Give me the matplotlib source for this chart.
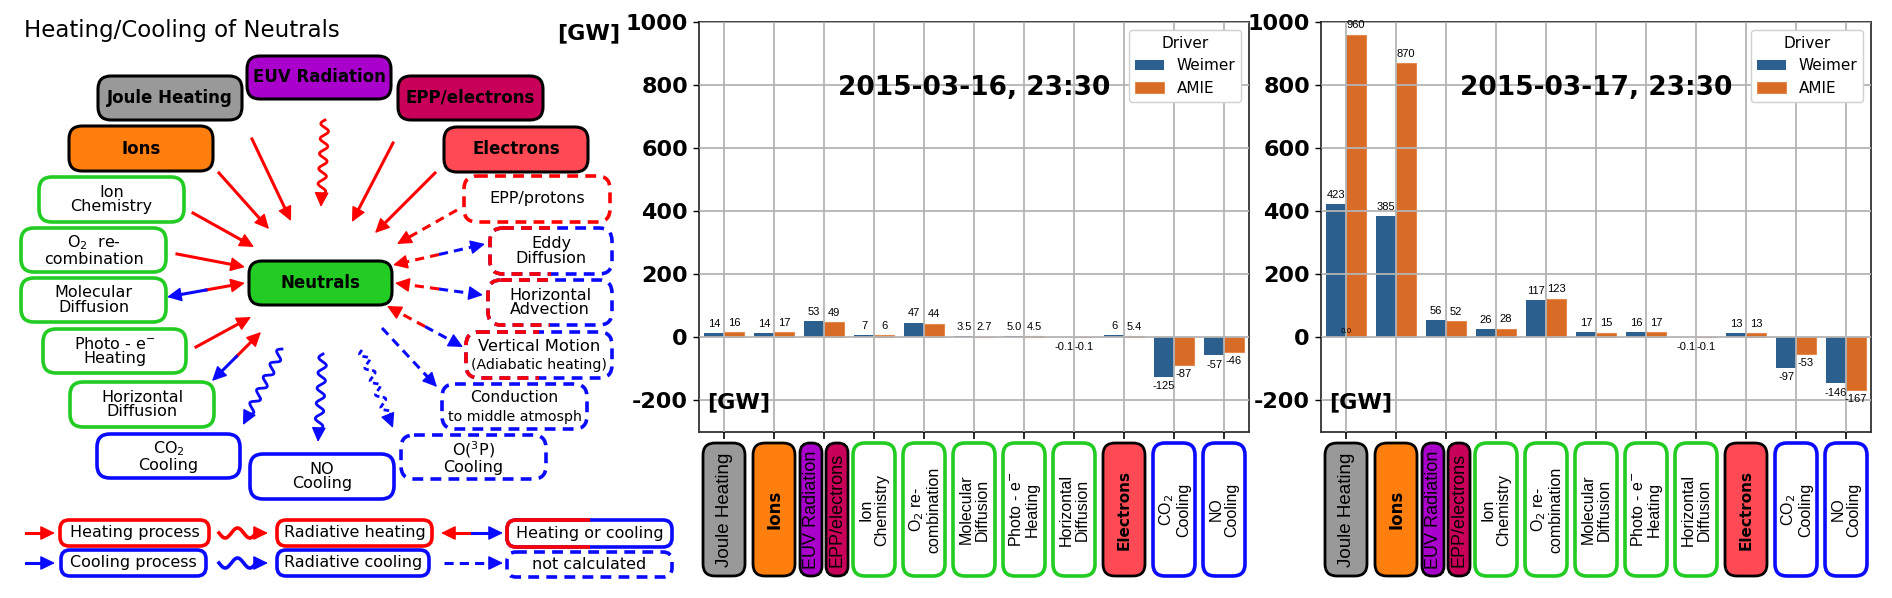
import numpy as np
import matplotlib
matplotlib.use("Agg")
import matplotlib.pyplot as plt
from matplotlib.patches import FancyBboxPatch, FancyArrowPatch, Rectangle

# ---- data -------------------------------------------------------------
categories = ["Joule Heating", "Ions", "EUV Radiation / EPP electrons", "Ion Chemistry",
              "O2 re-combination", "Molecular Diffusion", "Photo-e Heating",
              "Horizontal Diffusion", "Electrons", "CO2 Cooling", "NO Cooling"]
drivers = ["Weimer", "AMIE"]
dates = ["2015-03-16, 23:30", "2015-03-17, 23:30"]

weimer_16 = [14, 14, 53, 7, 47, 3.5, 5.0, -0.1, 6, -125, -57]
amie_16 = [16, 17, 49, 6, 44, 2.7, 4.5, -0.1, 5.4, -87, -46]
weimer_16_txt = ["14", "14", "53", "7", "47", "3.5", "5.0", "-0.1", "6", "-125", "-57"]
amie_16_txt = ["16", "17", "49", "6", "44", "2.7", "4.5", "-0.1", "5.4", "-87", "-46"]

weimer_17 = [423, 385, 56, 26, 117, 17, 16, -0.1, 13, -97, -146]
amie_17 = [960, 870, 52, 28, 123, 15, 17, -0.1, 13, -53, -167]
weimer_17_txt = ["423", "385", "56", "26", "117", "17", "16", "-0.1", "13", "-97", "-146"]
amie_17_txt = ["960", "870", "52", "28", "123", "15", "17", "-0.1", "13", "-53", "-167"]

ytick_vals = [-200, 0, 200, 400, 600, 800, 1000]

# colours
C_W = "#2b5f8e"
C_A = "#d86b25"
RED = "#ff0000"
BLUE = "#0a0aff"
GREEN = "#22cc22"

plt.rcParams["font.family"] = ["DejaVu Sans"]

W, H = 1892, 598
fig = plt.figure(figsize=(W / 100, H / 100), dpi=100)


def px_axes(x0, y0, x1, y1):
    """axes from pixel box (top-left origin)"""
    return fig.add_axes([x0 / W, (H - y1) / H, (x1 - x0) / W, (y1 - y0) / H])


def draw_chart(ax, w, a, wt, at, date):
    x = np.arange(len(categories))
    b1 = ax.bar(x - 0.2, w, 0.4, color=C_W, label=drivers[0])
    b2 = ax.bar(x + 0.2, a, 0.4, color=C_A, edgecolor="#e58a4f", lw=0.8, label=drivers[1])
    ax.bar_label(b1, labels=wt, padding=3, fontsize=8, family="Liberation Sans")
    ax.bar_label(b2, labels=at, padding=3, fontsize=8, family="Liberation Sans")
    ax.set_xlim(-0.5, 10.5)
    ax.set_ylim(-300, 1000)
    ax.set_xticks(x)
    ax.set_xticklabels([])
    ax.set_yticks(ytick_vals)
    ax.set_yticklabels([str(v) for v in ytick_vals], fontsize=16, fontweight="bold")
    ax.tick_params(axis="y", length=4, width=1, pad=4)
    ax.tick_params(axis="x", length=5, width=1.2)
    ax.grid(True, color="#b4b4b4", lw=1.3)
    ax.set_axisbelow(False)
    for s in ax.spines.values():
        s.set_color("#333333")
        s.set_linewidth(1.3)
    leg = ax.legend(title="Driver", loc="upper right", fontsize=11, title_fontsize=11,
                    handlelength=1.9, handleheight=0.7, framealpha=1)
    leg.get_frame().set_edgecolor("#d0d0d0")
    ax.text(0.5, 0.84, date, transform=ax.transAxes, ha="center", va="center",
            fontsize=19, fontweight="bold")
    ax.text(0.015, 0.073, "[GW]", transform=ax.transAxes, ha="left", va="center",
            fontsize=16, fontweight="bold")


ax1 = px_axes(699, 22, 1249, 432)
ax2 = px_axes(1321, 22, 1871, 432)
draw_chart(ax1, weimer_16, amie_16, weimer_16_txt, amie_16_txt, dates[0])
draw_chart(ax2, weimer_17, amie_17, weimer_17_txt, amie_17_txt, dates[1])
ax2.text(0, 12, "0.0", fontsize=5, ha="center", va="bottom")

# ---- overlay for the diagram and label boxes (pixel coords) ------------
ov = fig.add_axes([0, 0, 1, 1])
ov.set_xlim(0, W)
ov.set_ylim(H, 0)
ov.axis("off")


def rbox(x0, y0, x1, y1, ec, fc="white", lw=2.2, ls="-", r=12, split=False):
    if split:
        p = FancyBboxPatch((x0, y0), x1 - x0, y1 - y0, boxstyle=f"round,pad=0,rounding_size={r}",
                           fc=fc, ec=BLUE, lw=lw, ls=ls, zorder=3)
        ov.add_patch(p)
        q = FancyBboxPatch((x0, y0), x1 - x0, y1 - y0, boxstyle=f"round,pad=0,rounding_size={r}",
                           fc="none", ec=RED, lw=lw, ls=ls, zorder=3.1)
        ov.add_patch(q)
        clip = Rectangle((x0 - 6, y0 - 6), (x1 - x0) / 2 + 6, (y1 - y0) + 12, transform=ov.transData)
        q.set_clip_path(clip)
    else:
        p = FancyBboxPatch((x0, y0), x1 - x0, y1 - y0, boxstyle=f"round,pad=0,rounding_size={r}",
                           fc=fc, ec=ec, lw=lw, ls=ls, zorder=3)
        ov.add_patch(p)


def btext(x0, y0, x1, y1, s, size=11.5, weight="normal", dy=0, **kw):
    ov.text((x0 + x1) / 2, (y0 + y1) / 2 + dy, s, ha="center", va="center", fontsize=size,
            fontweight=weight, linespacing=0.95, zorder=4, **kw)


def head(a, b, color):
    ov.add_patch(FancyArrowPatch(a, b, arrowstyle="-|>,head_length=0.45,head_width=0.22",
                                 mutation_scale=20, color=color, lw=1, shrinkA=0, shrinkB=0,
                                 zorder=2))


def arrow(p0, p1, color, ls="-", lw=2.2):
    p0, p1 = np.array(p0, float), np.array(p1, float)
    u = (p1 - p0) / np.hypot(*(p1 - p0))
    e = p1 - u * 10
    ov.plot([p0[0], e[0]], [p0[1], e[1]], color=color, lw=lw, ls=ls, zorder=2)
    head(p1 - u * 13, p1, color)


def double(pn, po, ls="-"):
    pn, po = np.array(pn, float), np.array(po, float)
    m = (pn + po) / 2
    arrow(m, pn, RED, ls=ls)
    arrow(m, po, BLUE, ls=ls)


def wavy(p0, p1, color, ls="-", amp=4.0, wl=15.0, lw=2.0):
    p0, p1 = np.array(p0, float), np.array(p1, float)
    d = p1 - p0
    L = np.hypot(*d)
    u = d / L
    n = np.array([-u[1], u[0]])
    Lw = L - 12
    k = max(1, round(2 * Lw / wl))
    wl = 2 * Lw / k
    s = np.linspace(0, Lw, 300)
    pts = p0 + np.outer(s, u) + np.outer(amp * np.sin(2 * np.pi * s / wl), n)
    ov.plot(pts[:, 0], pts[:, 1], color=color, lw=lw, ls=ls, zorder=2)
    head(p1 - u * 13, p1, color)


# title
ov.text(24, 31, "Heating/Cooling of Neutrals", fontsize=16.5, ha="left", va="center")

# filled source boxes
filled = [
    (98, 76, 242, 120, "#999999", "Joule Heating"),
    (247, 56, 391, 99, "#aa00cc", "EUV Radiation"),
    (398, 76, 543, 120, "#c8005a", "EPP/electrons"),
    (69, 126, 213, 171, "#ff7f0e", "Ions"),
    (444, 127, 588, 172, "#ff4a55", "Electrons"),
    (249, 261, 392, 305, "#22cc22", "Neutrals"),
]
for x0, y0, x1, y1, fc, s in filled:
    rbox(x0, y0, x1, y1, "black", fc=fc, lw=2.2, r=13)
    btext(x0, y0, x1, y1, s, size=12, weight="bold")

green = [
    (39, 177, 184, 222, "Ion\nChemistry"),
    (21, 228, 166, 272, "O$_2$  re-\ncombination"),
    (21, 278, 166, 322, "Molecular\nDiffusion"),
    (43, 329, 186, 373, "Photo - e$^{-}$\nHeating"),
    (70, 382, 214, 427, "Horizontal\nDiffusion"),
]
for x0, y0, x1, y1, s in green:
    rbox(x0, y0, x1, y1, GREEN, lw=2.6, r=13)
    btext(x0, y0, x1, y1, s, size=11.5)

rbox(97, 434, 240, 478, BLUE, lw=2.6, r=13)
btext(97, 434, 240, 478, "CO$_2$\nCooling", size=11.5)
rbox(250, 454, 394, 499, BLUE, lw=2.6, r=13)
btext(250, 454, 394, 499, "NO\nCooling", size=11.5)
rbox(401, 435, 546, 479, BLUE, lw=2.6, ls=(0, (3, 2)), r=13)
btext(401, 435, 546, 479, "O($^3$P)\nCooling", size=11.5)
rbox(442, 384, 587, 429, BLUE, lw=2.6, ls=(0, (3, 2)), r=13)
btext(442, 384, 587, 406, "Conduction", size=11.2, dy=3)
btext(442, 406, 587, 429, "to middle atmosph", size=10.2, dy=-1)
rbox(464, 176, 610, 222, RED, lw=2.6, ls=(0, (3, 2)), r=13)
btext(464, 176, 610, 222, "EPP/protons", size=11.5)
rbox(490, 228, 612, 274, RED, lw=2.6, ls=(0, (3, 2)), r=13, split=True)
btext(490, 228, 612, 274, "Eddy\nDiffusion", size=11.5)
rbox(488, 280, 612, 325, RED, lw=2.6, ls=(0, (3, 2)), r=13, split=True)
btext(488, 280, 612, 325, "Horizontal\nAdvection", size=11.5)
rbox(466, 332, 612, 378, RED, lw=2.6, ls=(0, (3, 2)), r=13, split=True)
btext(466, 332, 612, 355, "Vertical Motion", size=11.8, dy=3)
btext(466, 355, 612, 378, "(Adiabatic heating)", size=10.2, dy=-1)

# arrows into / out of the neutrals box
heat = [((219, 173), (269, 229)), ((252, 139), (291, 221)), ((393, 143), (352, 222)),
        ((435, 173), (375, 233)), ((193, 213), (254, 247)), ((177, 254), (245, 267)),
        ((196, 347), (251, 317))]
for p0, p1 in heat:
    arrow(p0, p1, RED)
double((245, 283), (167, 297))
double((261, 332), (212, 381))
arrow((457, 210), (397, 244), RED, ls=(0, (3, 2)))
double((393, 265), (485, 244), ls=(0, (3, 2)))
double((395, 283), (483, 295), ls=(0, (3, 2)))
double((387, 306), (463, 347), ls=(0, (3, 2)))
arrow((382, 328), (437, 387), BLUE, ls=(0, (3, 2)))
wavy((325, 120), (321, 207), RED)
wavy((282, 349), (243, 425), BLUE)
wavy((323, 354), (318, 442), BLUE)
wavy((362, 350), (393, 428), BLUE, ls=(0, (2, 1.2)))

# legend of the diagram
arrow((26, 533), (55, 533), RED)
arrow((26, 563), (55, 563), BLUE)
wavy((219, 533), (268, 533), RED, amp=5, wl=26, lw=2.6)
wavy((219, 563), (268, 563), BLUE, amp=5, wl=26, lw=2.6)
arrow((472, 533), (441, 533), RED)
arrow((472, 533), (503, 533), BLUE)
arrow((444, 563), (503, 563), BLUE, ls=(0, (3, 2)))
leg_boxes = [
    (60, 520, 209, 546, RED, "Heating process", "-", False),
    (277, 520, 432, 546, RED, "Radiative heating", "-", False),
    (507, 520, 672, 547, RED, "Heating or cooling", "-", True),
    (61, 550, 206, 576, BLUE, "Cooling process", "-", False),
    (277, 550, 429, 576, BLUE, "Radiative cooling", "-", False),
    (507, 552, 672, 577, BLUE, "not calculated", (0, (3, 2)), False),
]
for x0, y0, x1, y1, ec, s, ls, sp in leg_boxes:
    rbox(x0, y0, x1, y1, ec, lw=2.6, ls=ls, r=9, split=sp)
    btext(x0, y0, x1, y1, s, size=11.5)

# ---- x tick label boxes under each chart ------------------------------
xlab = [
    ("Joule Heating", "#999999", "black", "Liberation Sans", "normal", 13.5),
    ("Ions", "#ff7f0e", "black", "DejaVu Sans", "bold", 12),
    (None, None, None, None, None, None),
    ("Ion\nChemistry", "white", GREEN, "Liberation Sans", "normal", 11.5),
    ("O$_2$ re-\ncombination", "white", GREEN, "Liberation Sans", "normal", 11.5),
    ("Molecular\nDiffusion", "white", GREEN, "Liberation Sans", "normal", 11.5),
    ("Photo - e$^{-}$\nHeating", "white", GREEN, "Liberation Sans", "normal", 11.5),
    ("Horizontal\nDiffusion", "white", GREEN, "Liberation Sans", "normal", 11.5),
    ("Electrons", "#ff4a55", "black", "DejaVu Sans", "bold", 11),
    ("CO$_2$\nCooling", "white", BLUE, "Liberation Sans", "normal", 11.5),
    ("NO\nCooling", "white", BLUE, "Liberation Sans", "normal", 11.5),
]
split_lab = [("EUV Radiation", "#aa00cc"), ("EPP/electrons", "#c8005a")]
top, bot = 443, 576
for ax in (ax1, ax2):
    for i, (s, fc, ec, fam, wt, fs) in enumerate(xlab):
        cx = ax.transData.transform((i, 0))[0]
        if s is None:
            for j, (ss, c) in enumerate(split_lab):
                x0 = cx - 24 + j * 26
                rbox(x0, top, x0 + 22, bot, "black", fc=c, lw=2.0, r=10)
                ov.text(x0 + 11, (top + bot) / 2, ss, rotation=90, ha="center", va="center",
                        fontsize=13, family="Liberation Sans", zorder=4)
            continue
        lw = 2.0 if ec == "black" else 2.6
        rbox(cx - 21, top, cx + 21, bot, ec, fc=fc, lw=lw, r=12)
        ov.text(cx, (top + bot) / 2, s, rotation=90, ha="center", va="center", fontsize=fs,
                family=fam, fontweight=wt, linespacing=1.05, zorder=4)

ov.text(589, 33, "[GW]", fontsize=16, fontweight="bold", ha="center", va="center")

fig.savefig("out.png", dpi=100)
